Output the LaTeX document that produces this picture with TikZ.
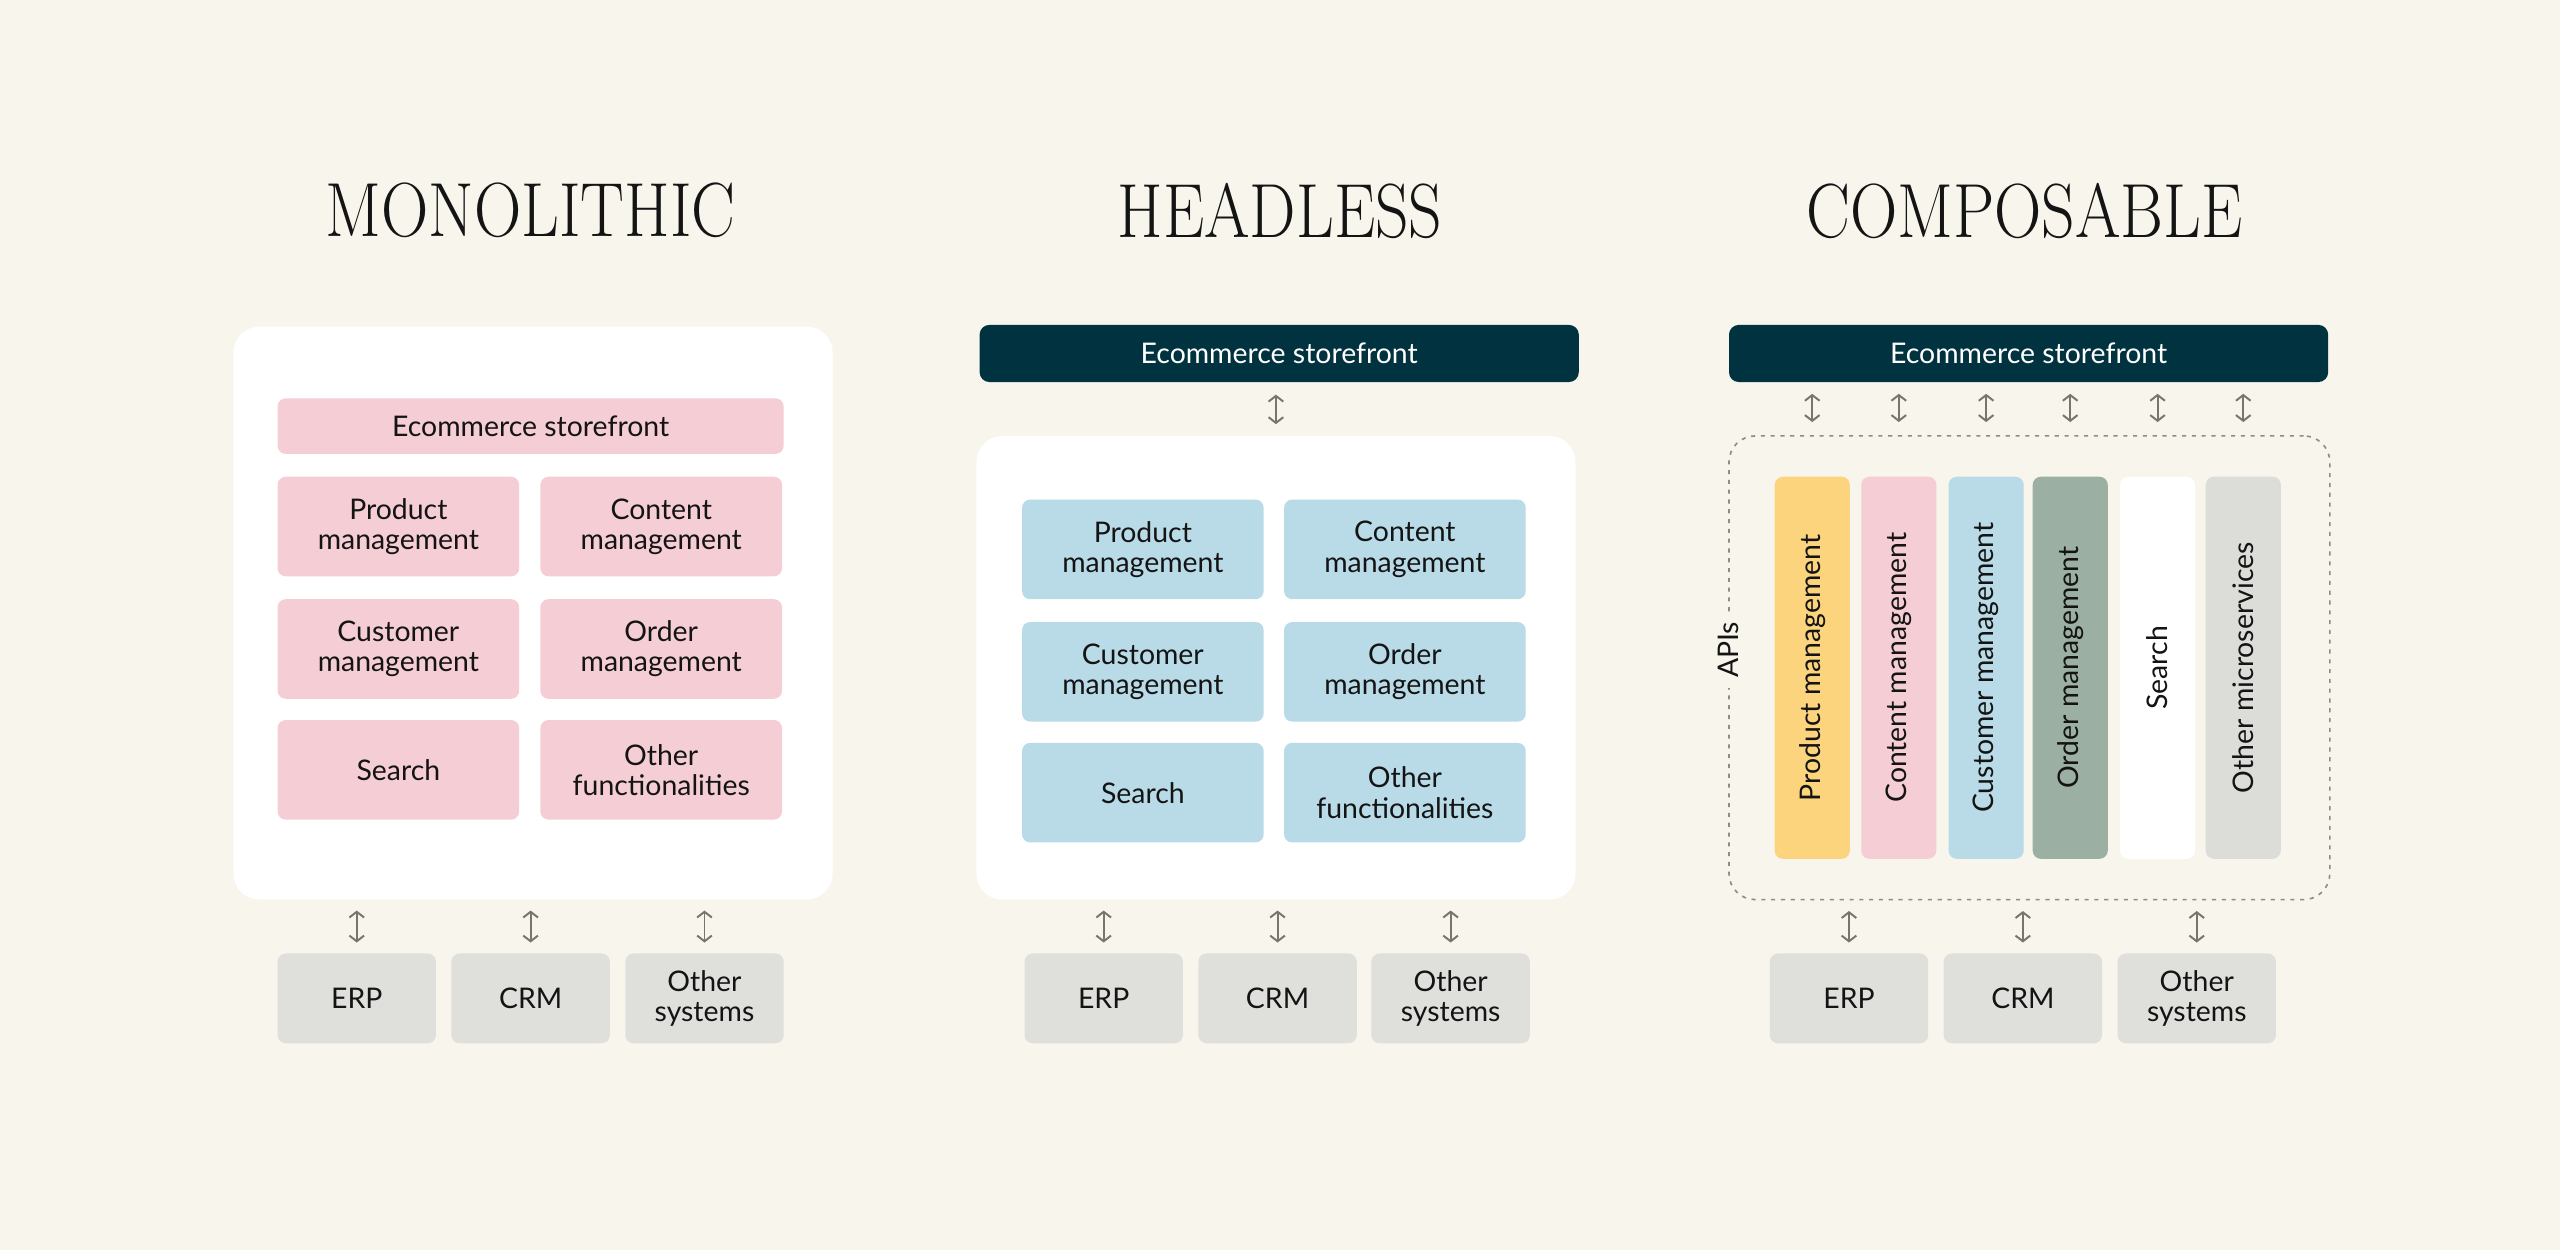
\documentclass[tikz,border=0pt]{standalone}
\usepackage{fontspec}
\setmainfont{Lato}
\newfontfamily\titlefont[FakeStretch=0.855]{Latin Modern Roman}
\usetikzlibrary{arrows.meta,calc}
\definecolor{bg}{HTML}{F7F5EC}
\definecolor{pinkm}{HTML}{F5CDD5}
\definecolor{bluem}{HTML}{B9DAE7}
\definecolor{yellowm}{HTML}{FDD47E}
\definecolor{greenm}{HTML}{9BB0A3}
\definecolor{graym}{HTML}{DCDCD9}
\definecolor{sysgray}{HTML}{DFDFDC}
\definecolor{darkbar}{HTML}{01323F}
\definecolor{arrowc}{HTML}{77756C}
\definecolor{dashc}{HTML}{8E8D85}
\definecolor{inkc}{HTML}{141414}
\begin{document}
\begin{tikzpicture}[x=1pt,y=-1pt,
  font=\fontsize{17.4}{18.5}\selectfont,
  text=inkc,
  title/.style={font=\titlefont\fontsize{47}{50}\selectfont, text=inkc, inner sep=0},
  panel/.style={fill=white, rounded corners=16pt, inner sep=0},
  modbox/.style={rounded corners=5pt, minimum width=148pt, minimum height=61pt, align=center, inner sep=0},
  sysbox/.style={fill=sysgray, rounded corners=5pt, minimum width=97pt, minimum height=55pt, align=center, inner sep=0},
  storebar/.style={fill=darkbar, text=white, rounded corners=6pt, minimum width=367pt, minimum height=35pt, inner sep=0},
  colbox/.style={rotate=90, rounded corners=5pt, minimum width=234pt, minimum height=46pt, inner sep=0},
  biarr/.style={draw=arrowc, line width=1.2pt, {Straight Barb[length=3.5pt,width=9pt]}-{Straight Barb[length=3.5pt,width=9pt]}}
]
\useasboundingbox[fill=bg] (0,0) rectangle (1568,765.6);

% titles
\node[title] (t1) at (325,129) {MONOLITHIC};
\node[title] (t2) at (784,129) {HEADLESS};
\node[title] (t3) at (1240,129) {COMPOSABLE};

% ---------- Monolithic ----------
\node[panel, minimum width=367pt, minimum height=351pt] (mono) at (326.5,375.5) {};
\node[modbox, fill=pinkm, minimum width=310pt, minimum height=34pt] (mstore) at (325,261) {Ecommerce storefront};
\node[modbox, fill=pinkm] (mprod) at (244,322.5) {Product\\management};
\node[modbox, fill=pinkm] (mcont) at (405,322.5) {Content\\management};
\node[modbox, fill=pinkm] (mcust) at (244,397.5) {Customer\\management};
\node[modbox, fill=pinkm] (morder) at (405,397.5) {Order\\management};
\node[modbox, fill=pinkm] (msearch) at (244,471.5) {Search};
\node[modbox, fill=pinkm] (mother) at (405,471.5) {Other\\functionalities};
\node[sysbox] (merp) at (218.5,611.5) {ERP};
\node[sysbox] (mcrm) at (325,611.5) {CRM};
\node[sysbox] (moth) at (431.5,611.5) {Other\\systems};
\foreach \s in {merp,mcrm,moth}
  \draw[biarr, shorten <=6.5pt, shorten >=6.5pt] (\s.north) -- (\s.north |- mono.south);

% ---------- Headless ----------
\node[storebar] (hstore) at (783.5,216.5) {Ecommerce storefront};
\node[panel, minimum width=367pt, minimum height=284pt] (head) at (781.5,409) {};
\node[modbox, fill=bluem] (hprod) at (700,336.5) {Product\\management};
\node[modbox, fill=bluem] (hcont) at (860.5,336.5) {Content\\management};
\node[modbox, fill=bluem] (hcust) at (700,411.5) {Customer\\management};
\node[modbox, fill=bluem] (horder) at (860.5,411.5) {Order\\management};
\node[modbox, fill=bluem] (hsearch) at (700,485.5) {Search};
\node[modbox, fill=bluem] (hother) at (860.5,485.5) {Other\\functionalities};
\node[sysbox] (herp) at (676,611.5) {ERP};
\node[sysbox] (hcrm) at (782.5,611.5) {CRM};
\node[sysbox] (hoth) at (888.5,611.5) {Other\\systems};
\draw[biarr, shorten <=7.5pt, shorten >=7pt] (hstore.south -| head.north) -- (head.north);
\foreach \s in {herp,hcrm,hoth}
  \draw[biarr, shorten <=6.5pt, shorten >=6.5pt] (\s.north) -- (\s.north |- head.south);

% ---------- Composable ----------
\node[storebar] (cstore) at (1242.5,216.5) {Ecommerce storefront};
\node[draw=dashc, line width=1pt, dash pattern=on 2.5pt off 3.5pt, rounded corners=16pt,
      minimum width=368pt, minimum height=284pt, inner sep=0] (capi) at (1243,409) {};
\node[rotate=90, fill=bg, inner xsep=6pt, inner ysep=1pt] (apis) at (capi.west |- 0,398) {APIs};
\node[colbox, fill=yellowm] (c1) at (1110,409) {Product management};
\node[colbox, fill=pinkm] (c2) at (1163,409) {Content management};
\node[colbox, fill=bluem] (c3) at (1216.5,409) {Customer management};
\node[colbox, fill=greenm] (c4) at (1268,409) {Order management};
\node[colbox, fill=white] (c5) at (1321.5,409) {Search};
\node[colbox, fill=graym] (c6) at (1374,409) {Other microservices};
\foreach \c in {c1,c2,c3,c4,c5,c6}
  \draw[biarr, shorten <=7pt, shorten >=8pt] (\c |- cstore.south) -- (\c |- capi.north);
\node[sysbox] (cerp) at (1132.5,611.5) {ERP};
\node[sysbox] (ccrm) at (1239,611.5) {CRM};
\node[sysbox] (coth) at (1345.5,611.5) {Other\\systems};
\foreach \s in {cerp,ccrm,coth}
  \draw[biarr, shorten <=6.5pt, shorten >=6.5pt] (\s.north) -- (\s.north |- capi.south);
\end{tikzpicture}
\end{document}
